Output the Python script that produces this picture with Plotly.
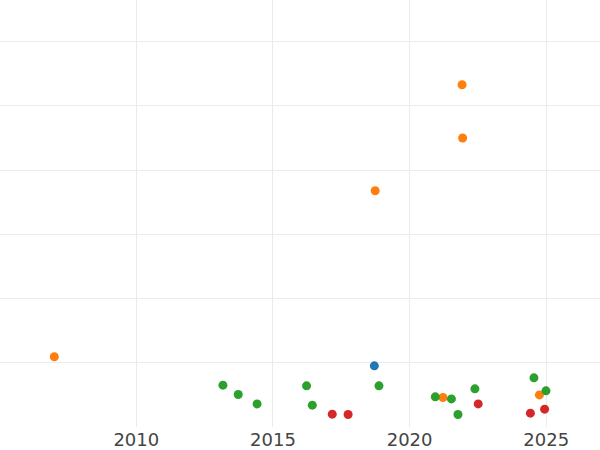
import plotly.graph_objects as go

# Series data (year, value)
blue_x = [2018.71]
blue_y = [9.53]

orange_x = [2007.0, 2018.74, 2021.92, 2021.94, 2021.22, 2024.75]
orange_y = [10.94, 36.8, 53.3, 45.0, 4.6, 5.0]

green_x = [2013.17, 2013.73, 2014.42, 2016.23, 2016.44, 2018.88, 2020.94, 2021.53, 2021.77, 2022.39, 2024.55, 2024.99]
green_y = [6.52, 5.07, 3.60, 6.41, 3.40, 6.41, 4.70, 4.38, 1.95, 5.94, 7.66, 5.63]

red_x = [2017.17, 2017.75, 2022.51, 2024.42, 2024.94]
red_y = [2.0, 1.95, 3.60, 2.15, 2.78]

tick_vals = [2010, 2015, 2020, 2025]
tick_text = ["2010", "2015", "2020", "2025"]

series = [
    ("blue", blue_x, blue_y, "#1f77b4"),
    ("orange", orange_x, orange_y, "#ff7f0e"),
    ("green", green_x, green_y, "#2ca02c"),
    ("red", red_x, red_y, "#d62728"),
]

fig = go.Figure()
for name, xs, ys, col in series:
    fig.add_trace(go.Scatter(x=xs, y=ys, mode="markers", name=name,
                             marker=dict(color=col, size=9)))

fig.update_layout(
    width=600, height=450,
    margin=dict(l=0, r=0, t=0, b=23),
    paper_bgcolor="white", plot_bgcolor="white",
    showlegend=False,
    font=dict(family="DejaVu Sans", color="#444444"),
    xaxis=dict(range=[2005.013, 2026.967], tickvals=tick_vals, ticktext=tick_text,
               showgrid=True, gridcolor="#ebebeb", gridwidth=1.3, zeroline=False,
               showline=False, tickfont=dict(size=18), automargin=False),
    yaxis=dict(range=[0, 66.5], dtick=10, tick0=0, showgrid=True, gridcolor="#ebebeb",
               gridwidth=1.3, zeroline=False, showticklabels=False, showline=False,
               automargin=False),
)

fig.write_html("out.html", config={"displayModeBar": False},
               post_script="document.body.style.margin='0';document.body.style.overflow='hidden';")
